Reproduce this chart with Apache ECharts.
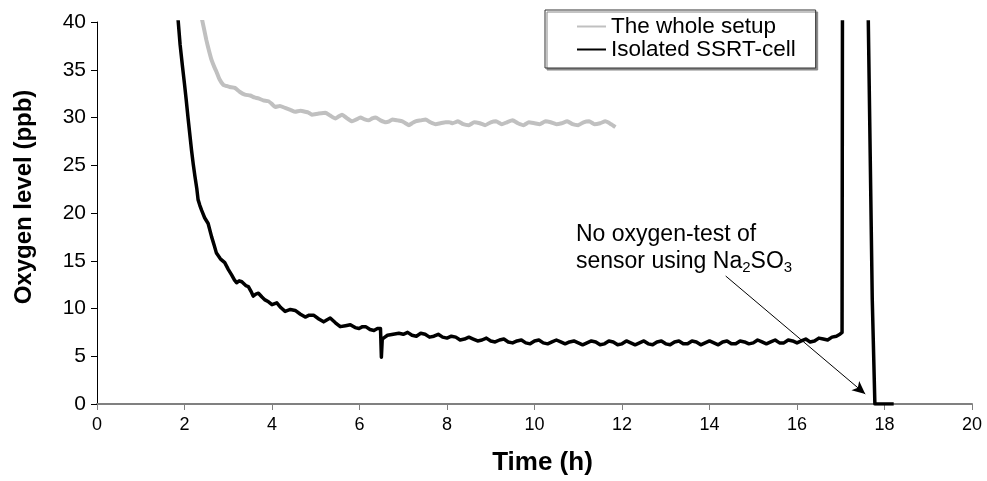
<!DOCTYPE html>
<html>
<head>
<meta charset="utf-8">
<title>Oxygen level</title>
<script src="https://cdn.jsdelivr.net/npm/echarts@6/dist/echarts.min.js"></script>
<style>
    html, body { margin: 0; padding: 0; background: #fff; }
    #chart { width: 987px; height: 481px; }
</style>
</head>
<body>
<div id="chart"></div>
<script>
'use strict';

// Time axis ticks
var timeTicks = [0, 2, 4, 6, 8, 10, 12, 14, 16, 18, 20];
var levelTicks = [0, 5, 10, 15, 20, 25, 30, 35, 40];

// The whole setup (grey)
var setupTime = [2.39, 2.45, 2.5, 2.56, 2.62, 2.68, 2.73, 2.8, 2.89, 2.96, 3.03, 3.15, 3.26, 3.38, 3.5, 3.6,
    3.69, 3.8, 3.92, 4.0, 4.07, 4.18, 4.3, 4.42, 4.53, 4.65, 4.76, 4.84, 4.91, 5.05, 5.22, 5.33, 5.45, 5.52,
    5.6, 5.72, 5.83, 5.93, 6.02, 6.12, 6.21, 6.29, 6.37, 6.48, 6.6, 6.68, 6.75, 6.87, 6.98, 7.05, 7.13, 7.2,
    7.28, 7.4, 7.51, 7.62, 7.74, 7.85, 7.97, 8.05, 8.13, 8.25, 8.37, 8.5, 8.62, 8.75, 8.87, 9.0, 9.12, 9.25,
    9.37, 9.5, 9.62, 9.75, 9.87, 10.0, 10.12, 10.25, 10.37, 10.5, 10.62, 10.75, 10.87, 11.0, 11.12, 11.25,
    11.37, 11.5, 11.62, 11.75, 11.85];
var setupLevel = [40.5, 39.2, 38.1, 37.0, 36.0, 35.3, 34.8, 34.0, 33.4, 33.3, 33.2, 33.1, 32.7, 32.4, 32.3, 32.1,
    32.0, 31.8, 31.7, 31.4, 31.1, 31.2, 31.0, 30.8, 30.6, 30.7, 30.6, 30.5, 30.3, 30.4, 30.5, 30.2, 29.9, 30.1,
    30.3, 29.9, 29.6, 29.8, 30.0, 29.8, 29.7, 29.9, 30.0, 29.7, 29.5, 29.6, 29.8, 29.7, 29.6, 29.4, 29.2, 29.4,
    29.6, 29.7, 29.8, 29.5, 29.3, 29.4, 29.5, 29.5, 29.4, 29.6, 29.3, 29.2, 29.5, 29.4, 29.2, 29.5, 29.6, 29.3,
    29.5, 29.7, 29.4, 29.2, 29.5, 29.4, 29.3, 29.6, 29.5, 29.3, 29.4, 29.6, 29.3, 29.2, 29.5, 29.6,
    29.3, 29.4, 29.6, 29.3, 29.0];

// Isolated SSRT-cell (black)
var cellTime = [1.84, 1.9, 1.95, 2.0, 2.04, 2.08, 2.12, 2.16, 2.2, 2.24, 2.28, 2.31, 2.35, 2.39, 2.46, 2.54,
    2.62, 2.68, 2.73, 2.82, 2.92, 3.0, 3.08, 3.14, 3.19, 3.25, 3.31, 3.4, 3.46, 3.52, 3.57, 3.63, 3.69, 3.77,
    3.84, 3.92, 4.0, 4.11, 4.2, 4.3, 4.42, 4.53, 4.65, 4.76, 4.85, 4.95, 5.07, 5.18, 5.25, 5.33, 5.45, 5.56,
    5.68, 5.79, 5.9, 5.99, 6.07, 6.14, 6.24, 6.33, 6.41, 6.48, 6.5, 6.52, 6.58, 6.64, 6.77, 6.9,
    7.0, 7.1, 7.2, 7.3, 7.4, 7.5, 7.6, 7.7, 7.8, 7.9, 8.0, 8.1, 8.2, 8.3, 8.4, 8.5, 8.6, 8.7, 8.8, 8.9,
    9.0, 9.1, 9.2, 9.3, 9.4, 9.5, 9.6, 9.7, 9.8, 9.9, 10.0, 10.1, 10.2, 10.3, 10.4, 10.5, 10.6, 10.7, 10.8, 10.9,
    11.0, 11.1, 11.2, 11.3, 11.4, 11.5, 11.6, 11.7, 11.8, 11.9, 12.0, 12.1, 12.2, 12.3, 12.4, 12.5, 12.6, 12.7,
    12.8, 12.9, 13.0, 13.1, 13.2, 13.3, 13.4, 13.5, 13.6, 13.7, 13.8, 13.9, 14.0, 14.1, 14.2, 14.3, 14.4, 14.5,
    14.6, 14.7, 14.8, 14.9, 15.0, 15.1, 15.2, 15.3, 15.4, 15.5, 15.6, 15.7, 15.8, 15.9, 16.0, 16.1, 16.2, 16.3,
    16.4, 16.5, 16.6, 16.7, 16.8, 16.9, 16.98, 17.03, 17.04, 17.3, 17.62, 17.63, 17.72, 17.78, 18.0, 18.21];
var cellLevel = [41, 37.6, 35.5, 33.5, 31.8, 30.0, 28.3, 26.6, 25.1, 23.8, 22.6, 21.4, 20.8, 20.3, 19.5, 18.9,
    17.5, 16.6, 15.8, 15.2, 14.8, 14.1, 13.5, 13.0, 12.7, 12.9, 12.8, 12.4, 12.3, 11.8, 11.3, 11.5, 11.6, 11.2,
    10.9, 10.7, 10.4, 10.6, 10.1, 9.7, 9.9, 9.8, 9.4, 9.1, 9.3, 9.3, 8.9, 8.6, 8.8, 9.0, 8.5, 8.1,
    8.2, 8.3, 8.0, 7.9, 8.1, 8.1, 7.8, 7.7, 7.9, 7.9, 4.9, 6.8, 7.0, 7.2, 7.3, 7.4,
    7.3, 7.5, 7.2, 7.1, 7.4, 7.3, 7.0, 7.1, 7.3, 7.0, 6.9, 7.1, 7.0, 6.7, 6.8, 7.0, 6.8, 6.6, 6.7, 6.9,
    6.6, 6.5, 6.7, 6.8, 6.5, 6.4, 6.6, 6.7, 6.4, 6.3, 6.6, 6.7, 6.4, 6.3, 6.5, 6.7, 6.5, 6.3, 6.5, 6.6,
    6.4, 6.2, 6.4, 6.6, 6.5, 6.2, 6.3, 6.6, 6.5, 6.2, 6.3, 6.6, 6.4, 6.2, 6.4, 6.6, 6.3, 6.2,
    6.5, 6.6, 6.3, 6.2, 6.5, 6.6, 6.3, 6.3, 6.6, 6.5, 6.2, 6.4, 6.6, 6.4, 6.2, 6.5, 6.6, 6.3,
    6.3, 6.6, 6.5, 6.3, 6.4, 6.7, 6.5, 6.3, 6.5, 6.7, 6.4, 6.4, 6.7, 6.6, 6.4, 6.6, 6.8, 6.5,
    6.6, 6.9, 6.8, 6.7, 7.0, 7.1, 7.3, 7.5, 45, 80, 45, 40, 11, 0, 0, 0];

// annotation arrow, data coordinates
var arrowFrom = [14.37, 13.4];
var arrowTo = [17.56, 1.05];

function zipPairs(xs, ys) {
    var out = [];
    for (var i = 0; i < xs.length; i++) {
        out.push([xs[i], ys[i]]);
    }
    return out;
}

var FONT = 'Liberation Sans, Arial, sans-serif';

var option = {
    animation: false,
    backgroundColor: '#fff',
    grid: { left: 97, right: 15, top: 22, bottom: 77, containLabel: false, outerBoundsMode: 'none' },
    legend: {
        orient: 'vertical',
        left: 545,
        top: 10,
        padding: [5, 20, 7, 32],
        itemGap: 0,
        itemWidth: 29,
        itemHeight: 2,
        icon: 'rect',
        backgroundColor: '#fff',
        borderColor: '#333',
        borderWidth: 1,
        shadowColor: '#888',
        shadowBlur: 0,
        shadowOffsetX: 2,
        shadowOffsetY: 2,
        textStyle: { fontFamily: FONT, fontSize: 22.5, color: '#000' },
        data: ['The whole setup', 'Isolated SSRT-cell']
    },
    xAxis: {
        type: 'value',
        min: timeTicks[0],
        max: timeTicks[timeTicks.length - 1],
        interval: 2,
        name: 'Time (h)',
        nameLocation: 'middle',
        nameGap: 46,
        nameTextStyle: { fontFamily: FONT, fontSize: 26, fontWeight: 'bold', color: '#000', padding: [0, 0, 0, 16] },
        axisLine: { show: true, lineStyle: { color: '#808080', width: 2 } },
        axisTick: { show: true, length: 6, lineStyle: { color: '#808080' } },
        axisLabel: { fontFamily: FONT, fontSize: 18, color: '#000', margin: 12 },
        splitLine: { show: false }
    },
    yAxis: {
        type: 'value',
        min: levelTicks[0],
        max: levelTicks[levelTicks.length - 1],
        interval: 5,
        name: 'Oxygen level (ppb)',
        nameLocation: 'middle',
        nameGap: 61,
        nameTextStyle: { fontFamily: FONT, fontSize: 24, fontWeight: 'bold', color: '#000', padding: [0, 0, 0, 32] },
        axisLine: { show: true, lineStyle: { color: '#000', width: 1 } },
        axisTick: { show: true, length: 6, lineStyle: { color: '#000' } },
        axisLabel: { fontFamily: FONT, fontSize: 21, color: '#000', margin: 11 },
        splitLine: { show: false }
    },
    series: [
        {
            name: 'The whole setup',
            type: 'line',
            data: zipPairs(setupTime, setupLevel),
            showSymbol: false,
            symbol: 'none',
            clip: true,
            smooth: 0.15,
            lineStyle: { color: '#c0c0c0', width: 4, join: 'round' },
            itemStyle: { color: '#c0c0c0' }
        },
        {
            name: 'Isolated SSRT-cell',
            type: 'line',
            data: zipPairs(cellTime, cellLevel),
            showSymbol: false,
            symbol: 'none',
            clip: true,
            lineStyle: { color: '#000', width: 3.5, join: 'round' },
            itemStyle: { color: '#000' },
            markLine: {
                silent: true,
                symbol: ['none', 'arrow'],
                symbolSize: [9, 13],
                label: { show: false },
                lineStyle: { color: '#000', width: 1, type: 'solid' },
                data: [[{ coord: arrowFrom }, { coord: arrowTo }]]
            }
        }
    ],
    graphic: [
        {
            type: 'text',
            left: 576,
            top: 223,
            style: {
                text: '{t|No oxygen-test of}\n{t|sensor using Na}{s|2}{t|SO}{s|3}',
                rich: {
                    t: { fontFamily: FONT, fontSize: 23, lineHeight: 27, fill: '#000' },
                    s: { fontFamily: FONT, fontSize: 15, lineHeight: 14, verticalAlign: 'bottom', fill: '#000' }
                }
            }
        }
    ]
};

var myChart = echarts.init(document.getElementById('chart'));
myChart.setOption(option);
</script>
</body>
</html>
